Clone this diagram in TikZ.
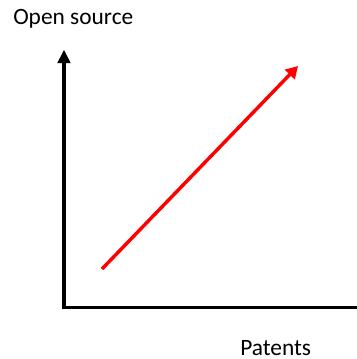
\documentclass[tikz,border=0pt]{standalone}
\usepackage{fontspec}
\setmainfont{Carlito}
\usetikzlibrary{arrows.meta}
\tikzset{
    axis/.style={line width=2.3pt,-{Triangle[width=9.5pt,length=10pt]}},
    trend/.style={red,line width=2.6pt,-{Triangle[width=10pt,length=9pt]}},
    axislabel/.style={font=\fontsize{17.6}{20}\selectfont,inner sep=0pt}
}

\begin{document}
\begin{tikzpicture}
    \useasboundingbox (0,0) rectangle (9.444,9.497);

    % Axes
    \coordinate (origin) at (1.693,1.362);
    \coordinate (ytop) at (1.693,8.18);
    \coordinate (xend) at (9.8,1.362);
    \draw[axis,line cap=rect] (origin) -- (ytop);
    \draw[axis] (origin) -- (xend);

    % Labels
    \node[axislabel,anchor=base west] (ylabel) at (0.344,8.836) {Open source};
    \node[axislabel,anchor=base west] (xlabel) at (6.349,0.08) {Patents};

    % Trend
    \coordinate (low) at (2.698,2.381);
    \coordinate (high) at (7.884,7.751);
    \draw[trend] (low) -- (high);
\end{tikzpicture}
\end{document}
